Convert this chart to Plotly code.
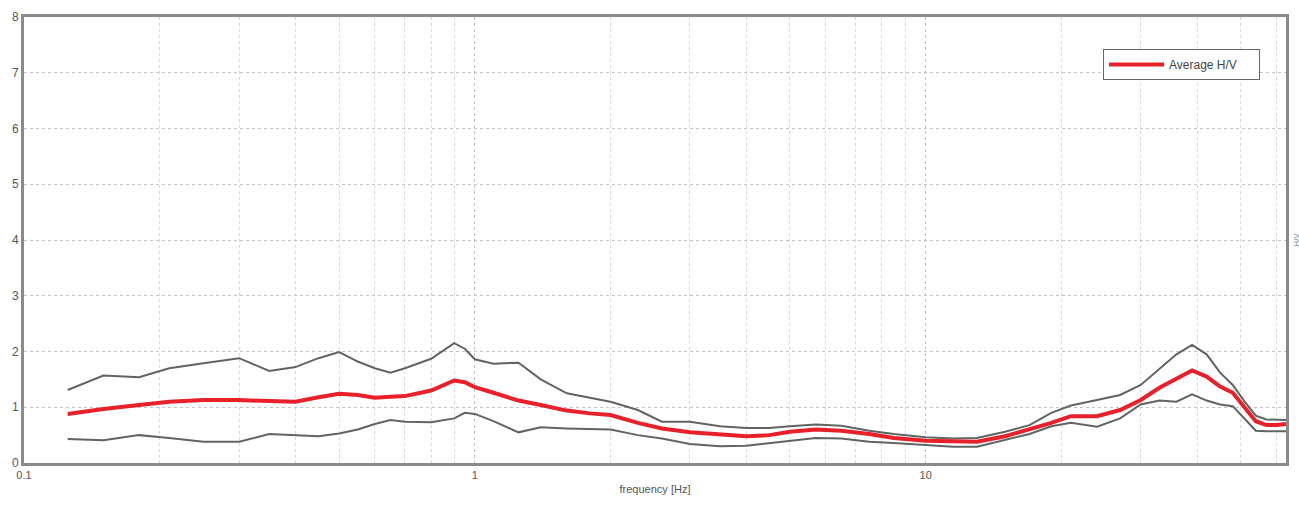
import plotly.graph_objects as go
import math

freq = [0.125, 0.15, 0.18, 0.21, 0.25, 0.3, 0.35, 0.4, 0.45, 0.5, 0.55, 0.6, 0.65, 0.7, 0.8, 0.9, 0.95,
        1.0, 1.1, 1.25, 1.4, 1.6, 1.8, 2.0, 2.3, 2.6, 3.0, 3.5, 4.0, 4.5, 5.0, 5.7, 6.5, 7.5, 8.5,
        10, 11.5, 13, 15, 17, 19, 21, 24, 27, 30, 33, 36, 39, 42, 45, 48, 51, 54, 57, 60, 63]

hv_upper = [1.31, 1.57, 1.54, 1.70, 1.79, 1.88, 1.65, 1.72, 1.88, 1.99, 1.82, 1.70, 1.62, 1.70, 1.87, 2.15, 2.05,
            1.86, 1.78, 1.80, 1.50, 1.25, 1.17, 1.10, 0.95, 0.74, 0.74, 0.66, 0.63, 0.63, 0.66, 0.69, 0.67, 0.58, 0.52,
            0.46, 0.44, 0.45, 0.56, 0.68, 0.90, 1.03, 1.13, 1.22, 1.40, 1.68, 1.95, 2.12, 1.95, 1.62, 1.40, 1.10, 0.85, 0.78, 0.77, 0.77]

hv_avg = [0.88, 0.97, 1.04, 1.10, 1.13, 1.13, 1.11, 1.10, 1.18, 1.24, 1.22, 1.17, 1.19, 1.20, 1.30, 1.48, 1.45,
          1.36, 1.26, 1.12, 1.04, 0.94, 0.89, 0.86, 0.72, 0.62, 0.55, 0.52, 0.48, 0.50, 0.56, 0.60, 0.58, 0.52, 0.45,
          0.40, 0.38, 0.38, 0.48, 0.60, 0.72, 0.84, 0.84, 0.95, 1.13, 1.35, 1.52, 1.66, 1.55, 1.37, 1.26, 1.00, 0.75, 0.68, 0.68, 0.70]

hv_lower = [0.43, 0.41, 0.50, 0.45, 0.38, 0.38, 0.52, 0.50, 0.48, 0.53, 0.60, 0.70, 0.77, 0.74, 0.73, 0.80, 0.90,
            0.88, 0.75, 0.55, 0.64, 0.62, 0.61, 0.60, 0.50, 0.44, 0.34, 0.30, 0.31, 0.36, 0.40, 0.45, 0.44, 0.38, 0.36,
            0.32, 0.29, 0.29, 0.42, 0.52, 0.66, 0.72, 0.65, 0.80, 1.05, 1.12, 1.10, 1.23, 1.12, 1.05, 1.02, 0.80, 0.58, 0.57, 0.57, 0.57]

x_tickvals = [0.1, 1, 10]
x_ticktext = ["0.1", "1", "10"]
y_tickvals = [0, 1, 2, 3, 4, 5, 6, 7, 8]

fig = go.Figure()
fig.add_trace(go.Scatter(x=freq, y=hv_upper, mode="lines", line=dict(color="#5f6560", width=2),
                         showlegend=False))
fig.add_trace(go.Scatter(x=freq, y=hv_lower, mode="lines", line=dict(color="#5f6560", width=2),
                         showlegend=False))
fig.add_trace(go.Scatter(x=freq, y=hv_avg, mode="lines", line=dict(color="#e8202a", width=4),
                         name="Average H/V&nbsp;&nbsp;&nbsp;&nbsp;&nbsp;", showlegend=True))

fig.update_layout(
    width=1299, height=506,
    margin=dict(l=24, r=10, t=17, b=43),
    paper_bgcolor="white", plot_bgcolor="white",
    font=dict(family="Liberation Sans, Arial, sans-serif", size=11, color="#555555"),
    legend=dict(x=0.855, y=0.928, xanchor="left", yanchor="top", bordercolor="#666666", borderwidth=1,
                bgcolor="white", font=dict(size=12, color="#444444"), itemwidth=55,
                tracegroupgap=0, indentation=0),
    xaxis=dict(type="log", range=[-1, math.log10(63)], tickvals=x_tickvals, ticktext=x_ticktext,
               showgrid=True, gridcolor="#c4c4c4", griddash="dot", gridwidth=1,
               minor=dict(dtick="D1", showgrid=True, gridcolor="#d8d8d8", griddash="dot", ticks=""),
               showline=True, linecolor="#8a8a8a", linewidth=3, mirror=True, ticks="",
               title=dict(text="frequency [Hz]", font=dict(size=11, color="#555555"), standoff=6),
               zeroline=False),
    yaxis=dict(range=[0, 8], tickvals=y_tickvals, showgrid=True, gridcolor="#c4c4c4", griddash="dot",
               showline=True, linecolor="#8a8a8a", linewidth=3, mirror=True, ticks="", zeroline=False,
               tickfont=dict(size=12, color="#555555")),
)
fig.add_annotation(text="H/V", xref="paper", yref="paper", x=1.0, y=0.5, xshift=3, xanchor="left",
                   textangle=-90, showarrow=False, font=dict(size=8, color="#888888"))
fig.write_html("out.html")
